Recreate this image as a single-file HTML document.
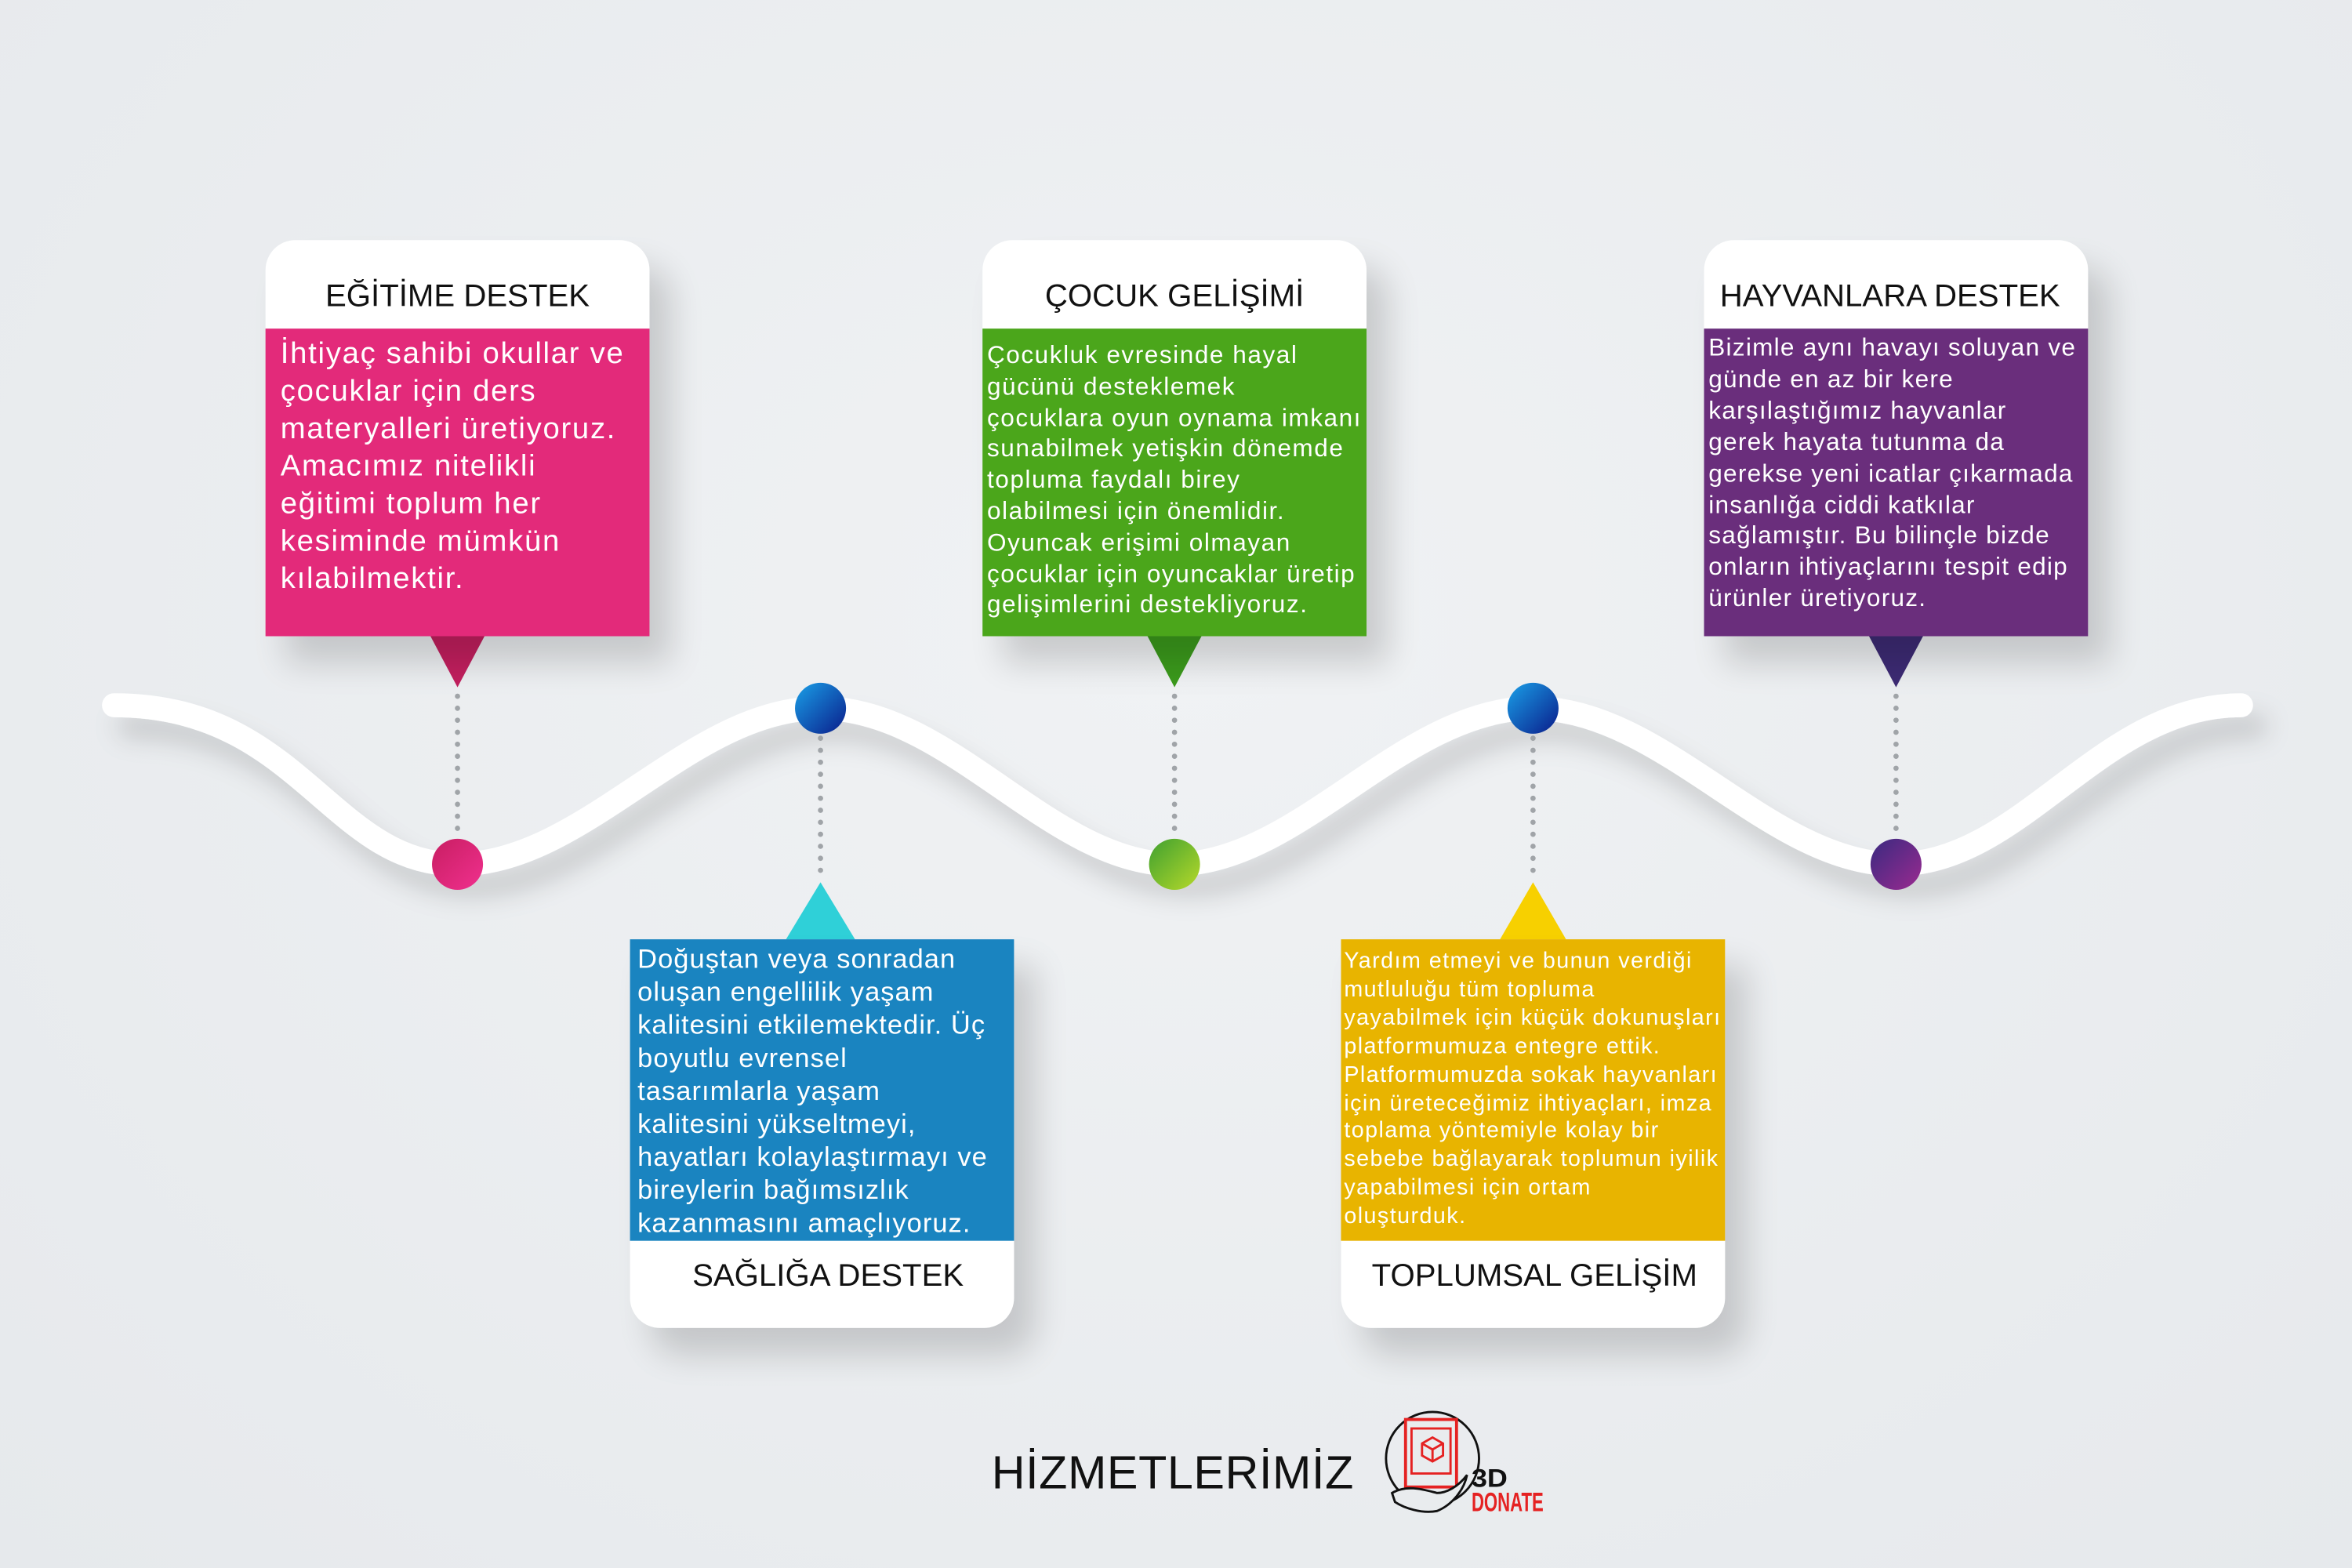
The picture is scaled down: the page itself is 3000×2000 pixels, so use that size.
<!DOCTYPE html>
<html><head><meta charset="utf-8"><style>
html,body{margin:0;padding:0;width:3000px;height:2000px;overflow:hidden;background:#e9ecee;}
#s{position:absolute;left:0;top:0;width:1568px;height:1045px;transform:scale(1.9133,1.9139);transform-origin:0 0;font-family:"Liberation Sans","DejaVu Sans",sans-serif;background:radial-gradient(ellipse at 50% 40%,#f0f2f4 0%,#e6e9ec 100%);}
.a{position:absolute;}
.hd{position:absolute;background:#fff;color:#111;text-align:center;white-space:nowrap;}
.bd{position:absolute;color:#fff;white-space:nowrap;letter-spacing:.3px;}
.sh{position:absolute;box-shadow:14px 18px 22px rgba(0,0,0,.16);}
</style></head><body><div id="s">
<svg class="a" style="left:0;top:0" width="1568" height="1045" viewBox="0 0 1568 1045">
<defs>
<filter id="f" x="-10%" y="-50%" width="120%" height="200%"><feDropShadow dx="10" dy="14" stdDeviation="8" flood-color="#000" flood-opacity=".15"/></filter>
<linearGradient id="gp" x1="0" y1="0" x2="1" y2="1"><stop offset="0" stop-color="#c81e62"/><stop offset="1" stop-color="#f0308e"/></linearGradient>
<linearGradient id="gg" x1="0" y1="0" x2="1" y2="1"><stop offset="0" stop-color="#3fa030"/><stop offset="1" stop-color="#b6d92a"/></linearGradient>
<linearGradient id="gv" x1="0" y1="0" x2="1" y2="1"><stop offset="0" stop-color="#3a2a80"/><stop offset="1" stop-color="#9a2a90"/></linearGradient>
<linearGradient id="gb" x1="0" y1="0" x2="1" y2="1"><stop offset="0" stop-color="#1aa0e8"/><stop offset="1" stop-color="#0a1c8a"/></linearGradient>
</defs>
<path d="M76,470 C200,470 220,576 305,576 C390,576 460,472 547,472 C634,472 700,576 783,576 C866,576 935,472 1022,472 C1109,472 1180,576 1264,576 C1348,576 1400,470 1494,470" fill="none" stroke="#fff" stroke-width="16" stroke-linecap="round" filter="url(#f)"/>
<g stroke="#a0a4a8" stroke-width="3.5" stroke-linecap="round" stroke-dasharray="0 8">
<line x1="305" y1="464" x2="305" y2="556"/><line x1="783" y1="464" x2="783" y2="556"/><line x1="1264" y1="464" x2="1264" y2="556"/>
<line x1="547" y1="492" x2="547" y2="584"/><line x1="1022" y1="492" x2="1022" y2="584"/>
</g>
<polygon points="287,424 323,424 305,458" fill="#c21f5e"/>
<polygon points="765,424 801,424 783,458" fill="#3b9a1c"/>
<polygon points="1246,424 1282,424 1264,458" fill="#3d2b74"/>
<polygon points="524,626 570,626 547,588" fill="#2fd0d8"/>
<polygon points="1000,626 1044,626 1022,588" fill="#f7d000"/>
<circle cx="305" cy="576" r="17" fill="url(#gp)"/>
<circle cx="783" cy="576" r="17" fill="url(#gg)"/>
<circle cx="1264" cy="576" r="17" fill="url(#gv)"/>
<circle cx="547" cy="472" r="17" fill="url(#gb)"/>
<circle cx="1022" cy="472" r="17" fill="url(#gb)"/>
<!-- logo -->
<circle cx="955" cy="972" r="31" fill="none" stroke="#111" stroke-width="1.5"/>
<rect x="937" y="946" width="34" height="45" fill="#e9ecee" stroke="#e52222" stroke-width="2"/>
<rect x="941" y="952" width="26" height="30" fill="none" stroke="#e52222" stroke-width="1.5"/>
<path d="M948,962 l7,-4 7,4 v8 l-7,4 -7,-4z M948,962 l7,4 7,-4 M955,966 v8" fill="none" stroke="#e52222" stroke-width="1.5"/>
<path d="M928,995 c10,-6 22,-2 30,0 c6,0 14,-4 20,-12 c-2,10 -10,20 -20,24 c-10,2 -22,-2 -28,-6z" fill="#e9ecee" stroke="#111" stroke-width="1.5"/>
<text x="981" y="991" font-family="Liberation Sans,sans-serif" font-weight="bold" font-size="17" fill="#111" textLength="24" lengthAdjust="spacingAndGlyphs">3D</text>
<text x="981" y="1007" font-family="Liberation Sans,sans-serif" font-weight="bold" font-size="18" fill="#e52222" textLength="48" lengthAdjust="spacingAndGlyphs">DONATE</text>
</svg>

<div class="sh" style="left:177px;top:160px;width:256px;height:264px;border-radius:20px 20px 0 0"></div>
<div class="hd" style="left:177px;top:160px;width:256px;height:59px;border-radius:20px 20px 0 0;font-size:21px;line-height:76px">EĞİTİME DESTEK</div>
<div class="bd" style="left:177px;top:219px;width:256px;height:205px;background:#e32a7a;font-size:20px;line-height:25px;padding:5px 0 0 10px;box-sizing:border-box;letter-spacing:.9px">İhtiyaç sahibi okullar ve<br>çocuklar için ders<br>materyalleri üretiyoruz.<br>Amacımız nitelikli<br>eğitimi toplum her<br>kesiminde mümkün<br>kılabilmektir.</div>

<div class="sh" style="left:655px;top:160px;width:256px;height:264px;border-radius:20px 20px 0 0"></div>
<div class="hd" style="left:655px;top:160px;width:256px;height:59px;border-radius:20px 20px 0 0;font-size:21px;line-height:76px">ÇOCUK GELİŞİMİ</div>
<div class="bd" style="left:655px;top:219px;width:256px;height:205px;background:#4ba61b;font-size:16.5px;line-height:20.8px;padding:8px 0 0 3px;box-sizing:border-box;letter-spacing:.8px">Çocukluk evresinde hayal<br>gücünü desteklemek<br>çocuklara oyun oynama imkanı<br>sunabilmek yetişkin dönemde<br>topluma faydalı birey<br>olabilmesi için önemlidir.<br>Oyuncak erişimi olmayan<br>çocuklar için oyuncaklar üretip<br>gelişimlerini destekliyoruz.</div>

<div class="sh" style="left:1136px;top:160px;width:256px;height:264px;border-radius:20px 20px 0 0"></div>
<div class="hd" style="left:1136px;top:160px;width:256px;height:59px;border-radius:20px 20px 0 0;font-size:21px;line-height:76px;text-indent:-8px">HAYVANLARA DESTEK</div>
<div class="bd" style="left:1136px;top:219px;width:256px;height:205px;background:#6a2e7c;font-size:16.5px;line-height:20.9px;padding:3px 0 0 3px;box-sizing:border-box;letter-spacing:.65px">Bizimle aynı havayı soluyan ve<br>günde en az bir kere<br>karşılaştığımız hayvanlar<br>gerek hayata tutunma da<br>gerekse yeni icatlar çıkarmada<br>insanlığa ciddi katkılar<br>sağlamıştır. Bu bilinçle bizde<br>onların ihtiyaçlarını tespit edip<br>ürünler üretiyoruz.</div>

<div class="sh" style="left:420px;top:626px;width:256px;height:259px;border-radius:0 0 20px 20px"></div>
<div class="bd" style="left:420px;top:626px;width:256px;height:201px;background:#1a84c0;font-size:18px;line-height:22px;padding:2px 0 0 5px;box-sizing:border-box;letter-spacing:.55px">Doğuştan veya sonradan<br>oluşan engellilik yaşam<br>kalitesini etkilemektedir. Üç<br>boyutlu evrensel<br>tasarımlarla yaşam<br>kalitesini yükseltmeyi,<br>hayatları kolaylaştırmayı ve<br>bireylerin bağımsızlık<br>kazanmasını amaçlıyoruz.</div>
<div class="hd" style="left:420px;top:827px;width:256px;height:58px;border-radius:0 0 20px 20px;font-size:21px;line-height:48px;text-indent:8px">SAĞLIĞA DESTEK</div>

<div class="sh" style="left:894px;top:626px;width:256px;height:259px;border-radius:0 0 20px 20px"></div>
<div class="bd" style="left:894px;top:626px;width:256px;height:201px;background:#e8b400;font-size:15px;line-height:18.9px;padding:6px 0 0 2px;box-sizing:border-box;letter-spacing:.75px">Yardım etmeyi ve bunun verdiği<br>mutluluğu tüm topluma<br>yayabilmek için küçük dokunuşları<br>platformumuza entegre ettik.<br>Platformumuzda sokak hayvanları<br>için üreteceğimiz ihtiyaçları, imza<br>toplama yöntemiyle kolay bir<br>sebebe bağlayarak toplumun iyilik<br>yapabilmesi için ortam<br>oluşturduk.</div>
<div class="hd" style="left:894px;top:827px;width:256px;height:58px;border-radius:0 0 20px 20px;font-size:21px;line-height:48px;text-indent:2px">TOPLUMSAL GELİŞİM</div>

<div class="a" style="left:661px;top:964px;font-size:31px;color:#111;white-space:nowrap;letter-spacing:.3px">HİZMETLERİMİZ</div>
</div></body></html>
